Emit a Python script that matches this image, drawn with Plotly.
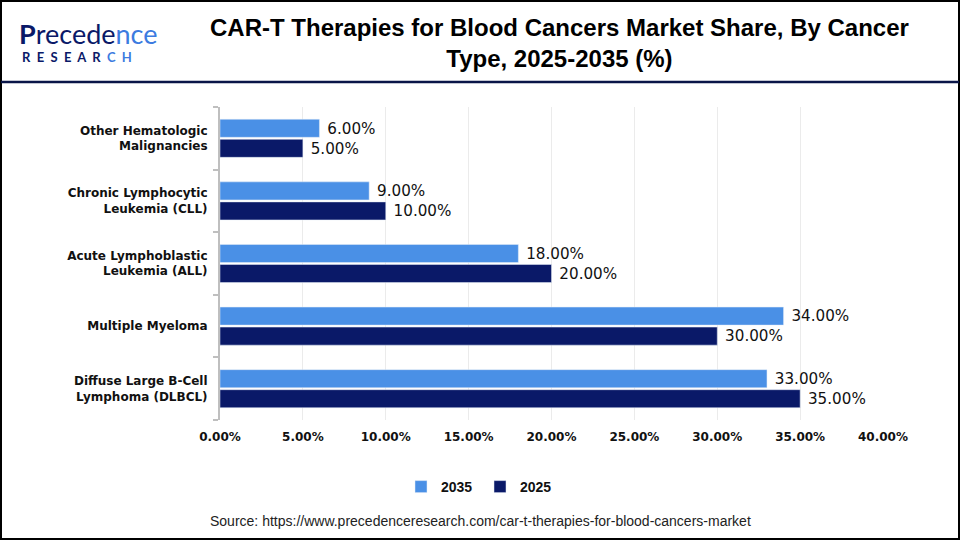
import plotly.graph_objects as go

categories = [
    "Other Hematologic<br>Malignancies",
    "Chronic Lymphocytic<br>Leukemia (CLL)",
    "Acute Lymphoblastic<br>Leukemia (ALL)",
    "Multiple Myeloma",
    "Diffuse Large B-Cell<br>Lymphoma (DLBCL)",
]
values_2035 = [6.0, 9.0, 18.0, 34.0, 33.0]
values_2025 = [5.0, 10.0, 20.0, 30.0, 35.0]
x_ticks = [0, 5, 10, 15, 20, 25, 30, 35, 40]
x_tick_labels = [f"{v:.2f}%" for v in x_ticks]

LIGHT = "#4A90E6"
DARK = "#0A1968"

# plot-area geometry (pixels) for paper-coordinate conversions
L, R, T, B = 220, 883, 107, 420
W, H = R - L, B - T
def px(x):
    return (x - L) / W
def py(y):
    return (B - y) / H

label_font = dict(family="DejaVu Sans", size=16, color="#111111")

fig = go.Figure()
fig.add_trace(go.Bar(
    name="2025", y=categories, x=values_2025, orientation="h",
    marker_color=DARK,
    text=[f" {v:.2f}%" for v in values_2025], textposition="outside",
    textfont=label_font, cliponaxis=False,
))
fig.add_trace(go.Bar(
    name="2035", y=categories, x=values_2035, orientation="h",
    marker_color=LIGHT,
    text=[f" {v:.2f}%" for v in values_2035], textposition="outside",
    textfont=label_font, cliponaxis=False,
))

fig.update_layout(
    width=960, height=540,
    margin=dict(l=L, r=960 - R, t=T, b=540 - B),
    paper_bgcolor="white", plot_bgcolor="white",
    barmode="group", bargap=0.36, bargroupgap=0.1,
    showlegend=True,
    legend=dict(orientation="h", traceorder="reversed",
                x=px(480), xanchor="center",
                y=py(487), yanchor="middle",
                font=dict(family="Liberation Sans", size=14, color="#111111", weight="bold"),
                itemwidth=30, entrywidth=34, entrywidthmode="pixels"),
    xaxis=dict(range=[0, 40], tickvals=x_ticks, ticktext=x_tick_labels,
               showgrid=True, gridcolor="#EBEBEB", gridwidth=1,
               zeroline=False, showline=False, ticklabelstandoff=8,
               tickfont=dict(family="DejaVu Sans", size=12, color="#111111", weight="bold")),
    yaxis=dict(categoryorder="array", categoryarray=categories[::-1],
               showline=True, linecolor="#BFBFBF", linewidth=2,
               ticks="outside", tickson="boundaries", ticklen=5, tickcolor="#BFBFBF", tickwidth=2,
               ticklabelstandoff=8,
               tickfont=dict(family="DejaVu Sans", size=12, color="#111111", weight="bold")),
    font=dict(family="DejaVu Sans"),
)

shapes = [
    dict(type="rect", xref="paper", yref="paper",
         x0=px(1), x1=px(959), y0=py(539), y1=py(1),
         line=dict(color="#000000", width=2), fillcolor="rgba(0,0,0,0)", layer="above"),
    dict(type="line", xref="paper", yref="paper",
         x0=px(1), x1=px(959), y0=py(82), y1=py(82),
         line=dict(color="#0A1548", width=2.5)),
]
fig.update_layout(shapes=shapes)

sp = "&nbsp;&nbsp;"
research = sp.join(list("RESEAR")) + sp + "<span style='color:#3C7BE0'>C" + sp + "H</span>"

annotations = [
    dict(text="CAR-T Therapies for Blood Cancers Market Share, By Cancer<br>Type, 2025-2035 (%)",
         xref="paper", yref="paper", x=px(559), y=py(43), xanchor="center", yanchor="middle",
         showarrow=False, align="center",
         font=dict(family="Liberation Sans", size=24, color="#000000", weight="bold")),
    dict(text="<b>P</b>recede<span style='color:#3C7BE0'>nce</span>",
         xref="paper", yref="paper", x=px(17), y=py(33), xanchor="left", yanchor="middle",
         showarrow=False,
         font=dict(family="Lato", size=27, color="#0A1968")),
    dict(text="<b>" + research + "</b>",
         xref="paper", yref="paper", x=px(20), y=py(57), xanchor="left", yanchor="middle",
         showarrow=False,
         font=dict(family="Lato", size=13, color="#0A1968")),
    dict(text="Source: https://www.precedenceresearch.com/car-t-therapies-for-blood-cancers-market",
         xref="paper", yref="paper", x=px(480), y=py(521), xanchor="center", yanchor="middle",
         showarrow=False,
         font=dict(family="Liberation Sans", size=14, color="#222222")),
]
fig.update_layout(annotations=annotations)

fig.write_html("out.html")
